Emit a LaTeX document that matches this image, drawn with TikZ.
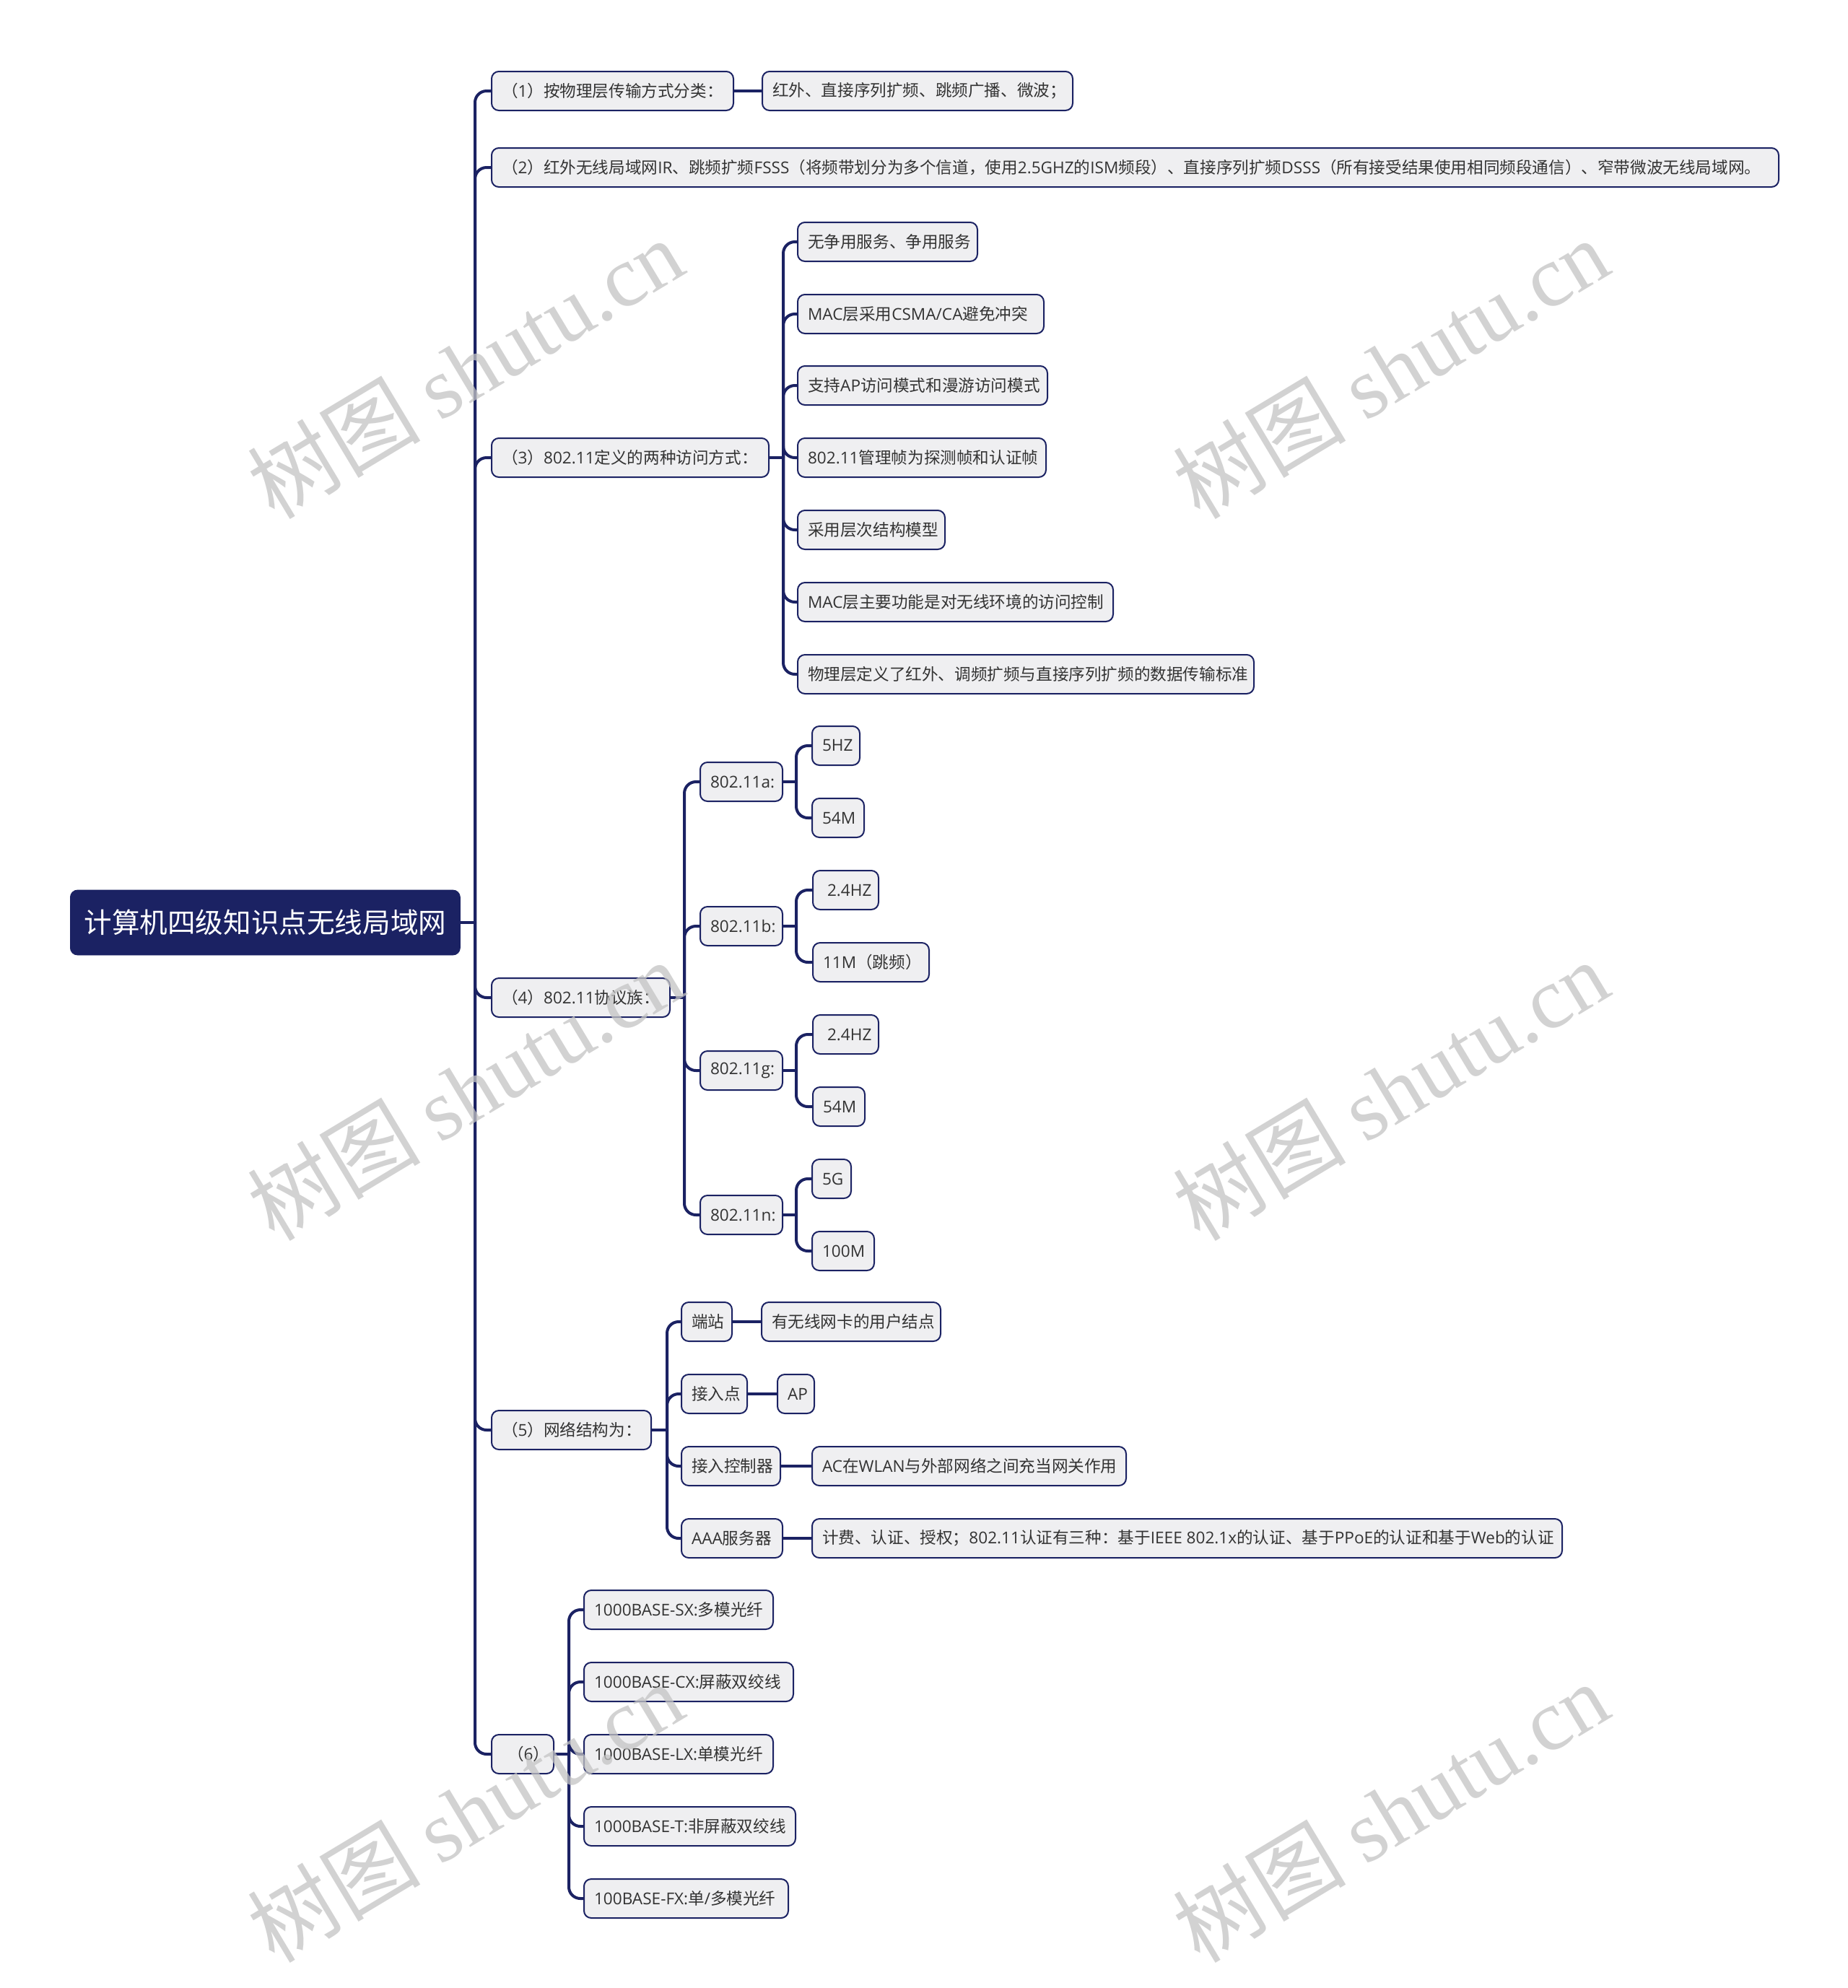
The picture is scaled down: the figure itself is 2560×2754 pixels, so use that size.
\documentclass[tikz,border=0pt]{standalone}
\usepackage{fontspec}
\setmainfont{Open Sans}
\newfontfamily\cjkf{Noto Sans CJK SC}
\newfontfamily\latf{Open Sans}
\newfontfamily\wmlatin{Liberation Serif}
\newcount\mycc
\def\setcjkrange#1#2{\mycc=#1\relax\loop\XeTeXcharclass\mycc=1\relax\ifnum\mycc<#2\relax\advance\mycc by 1\relax\repeat}
\setcjkrange{"4E00}{"9FFF}
\setcjkrange{"3000}{"303F}
\setcjkrange{"FF00}{"FFEF}
\XeTeXinterchartokenstate=1
\XeTeXinterchartoks 0 1 {\cjkf}
\XeTeXinterchartoks 4095 1 {\cjkf}
\XeTeXinterchartoks 1 0 {\latf}
\definecolor{navy}{HTML}{1B2263}
\definecolor{boxfill}{HTML}{EFEFF1}
\definecolor{txt}{HTML}{333333}
\definecolor{wm}{HTML}{C4C4C4}
\newcommand{\bx}[2]{\hbox to \dimexpr #1pt/2-14pt\relax{#2\hss}}
\begin{document}
\begin{tikzpicture}[x=0.5pt,y=-0.5pt,
 box/.style={draw=navy,line width=1pt,fill=boxfill,rounded corners=5pt,minimum height=27pt,inner xsep=7pt,inner ysep=0pt,anchor=west,text=txt,font=\fontsize{11.3}{13}\selectfont},
 rootbox/.style={fill=navy,draw=navy,rounded corners=5pt,minimum width=270pt,minimum height=45pt,inner sep=0pt,anchor=west,text=white,font=\fontsize{19.3}{22}\selectfont},
 conn/.style={draw=navy,line width=2pt},
 branch/.style={conn,rounded corners=8pt},
 wmark/.style={text=wm,opacity=0.75,rotate=31,font=\fontsize{60}{66}\selectfont}]
\fill[white] (0,0) rectangle (2560,2754);
\useasboundingbox (0,0) rectangle (2560,2754);

% root
\node[rootbox] (r) at (97,1278) {计算机四级知识点无线局域网};
\coordinate (t0) at (658,1278);
\draw[conn] (r.east) -- (t0);

% level 1
\node[box] (n1) at (680,126) {\bx{335}{（1）按物理层传输方式分类：}};
\node[box] (n2) at (680,232) {\bx{1783}{（2）红外无线局域网IR、跳频扩频FSSS（将频带划分为多个信道，使用2.5GHZ的ISM频段）、直接序列扩频DSSS（所有接受结果使用相同频段通信）、窄带微波无线局域网。}};
\node[box] (n3) at (680,634) {\bx{384}{（3）802.11定义的两种访问方式：}};
\node[box] (n4) at (680,1382) {\bx{247}{（4）802.11协议族：}};
\node[box] (n5) at (680,1981) {\bx{221}{（5）网络结构为：}};
\node[box] (n6) at (680,2430) {\bx{86}{\hspace{4pt}（6）}};
\foreach \n in {n1,n2,n3,n4,n5,n6} \draw[branch] (t0) |- (\n.west);

% (1)
\node[box] (n1a) at (1055,126) {\bx{430}{红外、直接序列扩频、跳频广播、微波；}};
\draw[conn] (n1) -- (n1a);

% (3)
\coordinate (t3) at (1085,634);
\draw[conn] (n3.east) -- (t3);
\node[box] (c31) at (1104,335) {\bx{249}{无争用服务、争用服务}};
\node[box] (c32) at (1104,435) {\bx{341}{MAC层采用CSMA/CA避免冲突}};
\node[box] (c33) at (1104,534) {\bx{346}{支持AP访问模式和漫游访问模式}};
\node[box] (c34) at (1104,634) {\bx{344}{802.11管理帧为探测帧和认证帧}};
\node[box] (c35) at (1104,734) {\bx{204}{采用层次结构模型}};
\node[box] (c36) at (1104,834) {\bx{437}{MAC层主要功能是对无线环境的访问控制}};
\node[box] (c37) at (1104,934) {\bx{632}{物理层定义了红外、调频扩频与直接序列扩频的数据传输标准}};
\foreach \n in {c31,c32,c33,c34,c35,c36,c37} \draw[branch] (t3) |- (\n.west);

% (4)
\coordinate (t4) at (948,1382);
\draw[conn] (n4.east) -- (t4);
\node[box] (pa) at (969,1083) {\bx{114}{802.11a:}};
\node[box] (pb) at (969,1283) {\bx{114}{802.11b:}};
\node[box] (pg) at (969,1483) {\bx{114}{802.11g:}};
\node[box] (pn) at (969,1683) {\bx{114}{802.11n:}};
\foreach \n in {pa,pb,pg,pn} \draw[branch] (t4) |- (\n.west);

\node[box] (pa1) at (1124,1033) {\bx{66}{5HZ}};
\node[box] (pa2) at (1124,1133) {\bx{72}{54M}};
\node[box] (pb1) at (1125,1233) {\bx{91}{\hspace{3pt}2.4HZ}};
\node[box] (pb2) at (1125,1333) {\bx{161}{11M（跳频）}};
\node[box] (pg1) at (1125,1433) {\bx{91}{\hspace{3pt}2.4HZ}};
\node[box] (pg2) at (1125,1533) {\bx{72}{54M}};
\node[box] (pn1) at (1124,1633) {\bx{54}{5G}};
\node[box] (pn2) at (1124,1733) {\bx{86}{100M}};
\foreach \p in {pa,pb,pg,pn}{
  \coordinate (t\p) at (1103,0 |- \p.east);
  \draw[conn] (\p.east) -- (t\p);
  \draw[branch] (t\p) |- (\p1.west);
  \draw[branch] (t\p) |- (\p2.west);
}

% (5)
\coordinate (t5) at (924,1981);
\draw[conn] (n5.east) -- (t5);
\node[box] (s1) at (943,1831) {\bx{70}{端站}};
\node[box] (s2) at (943,1931) {\bx{91}{接入点}};
\node[box] (s3) at (943,2031) {\bx{137}{接入控制器}};
\node[box] (s4) at (943,2131) {\bx{140}{AAA服务器}};
\foreach \n in {s1,s2,s3,s4} \draw[branch] (t5) |- (\n.west);
\node[box] (s1a) at (1054,1831) {\bx{248}{有无线网卡的用户结点}};
\node[box] (s2a) at (1076,1931) {\bx{51}{AP}};
\node[box] (s3a) at (1124,2031) {\bx{435}{AC在WLAN与外部网络之间充当网关作用}};
\node[box] (s4a) at (1124,2131) {\bx{1039}{计费、认证、授权；802.11认证有三种：基于IEEE 802.1x的认证、基于PPoE的认证和基于Web的认证}};
\foreach \n in {s1,s2,s3,s4} \draw[conn] (\n) -- (\n a);

% (6)
\coordinate (t6) at (788,2430);
\draw[conn] (n6.east) -- (t6);
\node[box] (f1) at (808,2230) {\bx{262}{1000BASE-SX:多模光纤}};
\node[box] (f2) at (808,2330) {\bx{290}{1000BASE-CX:屏蔽双绞线}};
\node[box] (f3) at (808,2430) {\bx{262}{1000BASE-LX:单模光纤}};
\node[box] (f4) at (808,2530) {\bx{293}{1000BASE-T:非屏蔽双绞线}};
\node[box] (f5) at (808,2630) {\bx{283}{100BASE-FX:单/多模光纤}};
\foreach \n in {f1,f2,f3,f4,f5} \draw[branch] (t6) |- (\n.west);

% watermarks
\node[wmark] (wm1) at (644,510) {树图 {\wmlatin shutu.cn}};
\node[wmark] (wm2) at (1926,510) {树图 {\wmlatin shutu.cn}};
\node[wmark] (wm3) at (644,1510) {树图 {\wmlatin shutu.cn}};
\node[wmark] (wm4) at (1926,1510) {树图 {\wmlatin shutu.cn}};
\node[wmark] (wm5) at (644,2510) {树图 {\wmlatin shutu.cn}};
\node[wmark] (wm6) at (1926,2510) {树图 {\wmlatin shutu.cn}};
\end{tikzpicture}
\end{document}
